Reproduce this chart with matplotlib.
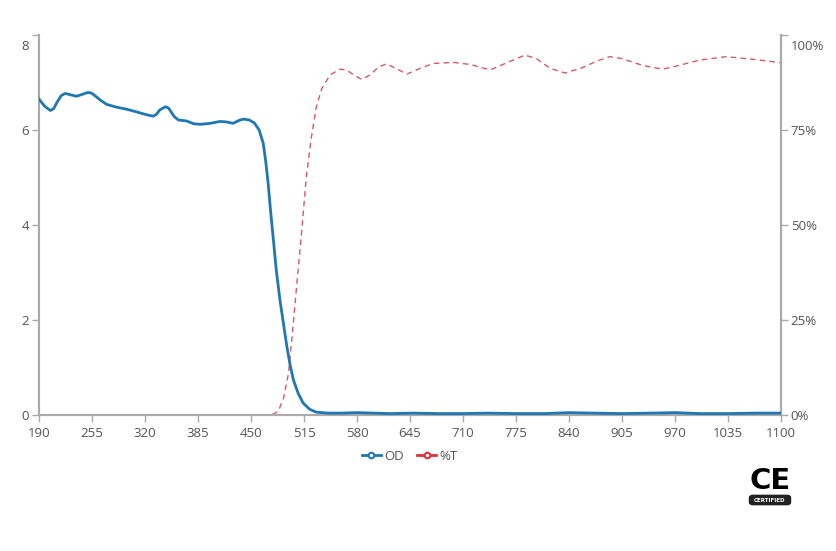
import matplotlib
matplotlib.use('Agg')
import matplotlib.pyplot as plt
import matplotlib.transforms as mtransforms
from matplotlib.patches import FancyBboxPatch

plt.rcParams['font.family'] = ['Open Sans', 'DejaVu Sans']

# Wavelength (nm) / optical density
od_nm = [190, 197, 204, 208, 212, 217, 222, 229, 236, 243, 250, 254, 258, 266,
         273, 285, 297, 310, 320, 330, 334, 338, 345, 349, 352, 356, 361, 371,
         380, 388, 400, 412, 420, 428, 435, 441, 448, 454, 460, 465, 468, 471,
         474, 477.5, 481, 485.5, 490, 494, 498, 502, 508, 514, 522, 530, 545,
         560, 580, 600, 620, 650, 680, 710, 740, 775, 810, 840, 870, 905, 940,
         970, 1000, 1035, 1070, 1100]
od_val = [6.65, 6.50, 6.41, 6.45, 6.58, 6.72, 6.77, 6.74, 6.71, 6.75, 6.79,
          6.78, 6.73, 6.62, 6.54, 6.48, 6.44, 6.38, 6.33, 6.29, 6.33, 6.42,
          6.49, 6.46, 6.38, 6.28, 6.21, 6.19, 6.13, 6.12, 6.14, 6.18, 6.17,
          6.14, 6.20, 6.23, 6.21, 6.15, 6.00, 5.72, 5.35, 4.88, 4.30, 3.68,
          3.05, 2.42, 1.90, 1.44, 1.05, 0.74, 0.45, 0.25, 0.12, 0.06, 0.04,
          0.04, 0.05, 0.04, 0.03, 0.04, 0.03, 0.03, 0.04, 0.03, 0.03, 0.05,
          0.04, 0.03, 0.04, 0.05, 0.03, 0.03, 0.04, 0.04]

# Wavelength (nm) / transmission %
t_nm = [190, 300, 400, 470, 478, 483.5, 490, 496, 501, 506, 512, 518, 524,
        530, 537, 547, 559, 567, 576, 586, 596, 606, 616, 628, 641, 655, 673,
        698, 720, 743, 765, 786, 800, 817, 835, 855, 875, 890, 905, 930, 955,
        975, 1000, 1033, 1066, 1100]
t_val = [0, 0, 0, 0, 0.3, 1.0, 4.5, 11, 22, 34, 48, 63, 73, 81, 86, 89.5, 91,
         90.8, 89.5, 88.3, 89.5, 91.5, 92.4, 91.2, 89.7, 91, 92.5, 92.8, 92.2,
         90.8, 92.8, 94.7, 93.8, 91.2, 90, 91.3, 93.2, 94.3, 93.8, 92, 91, 92,
         93.4, 94.3, 93.6, 92.7]

x_ticks = list(range(190, 1101, 65))
blue = '#1f77b4'
red = '#d65a64'
grey = '#aaaaaa'
txt = '#555555'

fig = plt.figure(figsize=(8.36, 5.51), dpi=100)
ax = fig.add_axes([39/836, 1 - 415/551, 742/836, 380/551])
ax2 = ax.twinx()

ax.plot(od_nm, od_val, color=blue, lw=2, zorder=3, solid_joinstyle='round')
ax2.plot(t_nm, t_val, color=red, lw=1, dashes=(4, 3), zorder=2)
ax.set_zorder(ax2.get_zorder() + 1)
ax.patch.set_visible(False)

ax.set_xlim(190, 1100)
ax.set_ylim(0, 8)
ax2.set_ylim(0, 100)
ax.set_xticks(x_ticks)
ax.set_yticks([0, 2, 4, 6, 8])
ax2.set_yticks([0, 25, 50, 75, 100])
ax2.set_yticklabels(['0%', '25%', '50%', '75%', '100%'])

for a in (ax, ax2):
    for s in a.spines.values():
        s.set_color(grey)
        s.set_linewidth(1.5)
    a.spines['top'].set_visible(False)
    a.tick_params(colors=grey, labelcolor=txt, labelsize=9.5, length=5, width=1)
ax.tick_params(axis='y', pad=2)
ax2.tick_params(axis='y', pad=2)

# top labels sit slightly below the axis end
off = mtransforms.ScaledTranslation(0, -7/72, fig.dpi_scale_trans)
for lab in (ax.get_yticklabels()[-1], ax2.get_yticklabels()[-1]):
    lab.set_transform(lab.get_transform() + off)

h1, = ax.plot([], [], color=blue, lw=2, marker='o', mfc='white', ms=4, mew=1.5)
h2, = ax.plot([], [], color='#e0303a', lw=2, marker='o', mfc='white', ms=4, mew=1.5)
fig.legend([h1, h2], ['OD', '%T'], loc='center', bbox_to_anchor=(410/836, 1 - 456/551),
           ncol=2, frameon=False, fontsize=9.5, handlelength=1.4, handletextpad=0.3,
           columnspacing=1.0, labelcolor=txt)

# CE certified mark
fig.text(770/836, 1 - 481/551, 'CE', ha='center', va='center', fontsize=21,
         fontweight='bold', family='DejaVu Sans', color='black')
box = FancyBboxPatch((752/836, 1 - 503/551), 36/836, 6/551,
                     boxstyle='round,pad=0.003,rounding_size=0.004',
                     transform=fig.transFigure, fc='#222222', ec='#222222')
fig.patches.append(box)
fig.text(770/836, 1 - 500/551, 'CERTIFIED', ha='center', va='center', fontsize=4,
         fontweight='bold', color='white', family='DejaVu Sans')

fig.savefig('out.png', dpi=100, facecolor='white')
